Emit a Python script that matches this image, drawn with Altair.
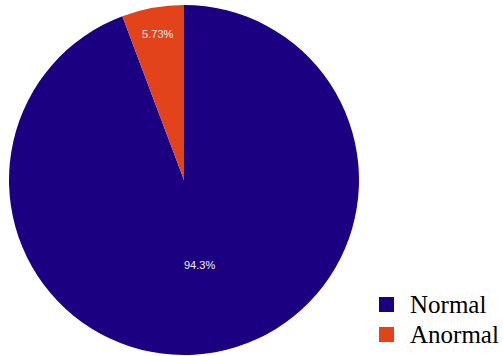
import altair as alt
import pandas as pd

categories = ["Normal", "Anormal"]
values = [94.27, 5.73]
labels = ["94.3%", "5.73%"]
colors = ["#1b0082", "#e2431a"]

df = pd.DataFrame({"cat": categories, "val": values, "label": labels, "order": [0, 1]})

CX, CY, R = 184, 180, 175

pie = alt.Chart(df).mark_arc(radius=R, stroke=None).encode(
    theta=alt.Theta("val:Q", stack=True),
    order=alt.Order("order:Q"),
    x=alt.value(CX),
    y=alt.value(CY),
    color=alt.Color(
        "cat:N",
        scale=alt.Scale(domain=categories, range=colors),
        sort=categories,
        legend=alt.Legend(
            title=None,
            orient="none",
            legendX=374,
            legendY=292,
            symbolType="square",
            symbolSize=225,
            symbolStrokeWidth=0,
            labelFont="Liberation Serif",
            labelFontSize=25,
            labelColor="#000000",
            labelOffset=11,
            rowPadding=4,
        ),
    ),
)

text = (
    alt.Chart(df)
    .transform_window(cum="sum(val)", sort=[alt.SortField("order")], frame=[None, 0])
    .transform_joinaggregate(total="sum(val)")
    .transform_calculate(
        mid="(datum.cum - datum.val / 2) / datum.total",
        r="datum.cat == 'Normal' ? 87 : 147",
    )
    .mark_text(color="#f4eef4", fontSize=11, font="Liberation Sans")
    .encode(
        theta=alt.Theta("mid:Q", scale=alt.Scale(domain=[0, 1], range=[0, 6.283185307]), stack=None),
        radius=alt.Radius("r:Q", scale=None),
        x=alt.value(CX),
        y=alt.value(CY),
        text="label:N",
    )
)

chart = alt.layer(pie, text).resolve_scale(theta="independent").properties(
    width=503, height=356, autosize=alt.AutoSizeParams(type="none"), padding=0
).configure_view(stroke=None)

chart.save("out.html", embed_options={"renderer": "svg", "actions": False})
